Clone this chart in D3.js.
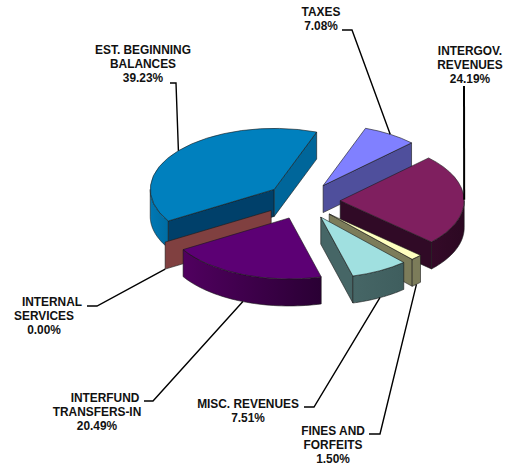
<!DOCTYPE html>
<html>
<head>
<meta charset="utf-8">
<script src="https://cdn.jsdelivr.net/npm/d3@7"></script>
<style>
html,body{margin:0;padding:0;background:#fff}
svg{display:block}
text{font-family:"Liberation Sans",Arial,sans-serif;font-weight:700;font-size:11.9px;fill:#111}
</style>
</head>
<body>
<svg id="chart" width="513" height="466"></svg>
<script>
// Revenue sources, in clockwise order from the top of the pie
const categories = ["TAXES", "INTERGOV. REVENUES", "FINES AND FORFEITS", "MISC. REVENUES",
                    "INTERFUND TRANSFERS-IN", "INTERNAL SERVICES", "EST. BEGINNING BALANCES"];
const shares = [7.08, 24.19, 1.50, 7.51, 20.49, 0.00, 39.23];

// Face colours per slice
const topColors  = ["#8080ff", "#7f1f5f", "#ffffc0", "#a0e0e0", "#5c0074", "#804040", "#0080be"];
const wallLeft   = ["#4f4f9c", "#340a28", "#7c7c5a", "#466666", "#50005f", "#804040", "#0078b4"];
const wallRight  = ["#4f4f9c", "#2c0822", "#7c7c5a", "#3f5e5e", "#2a0034", "#804040", "#006ca2"];
const cutColors  = ["#4f4f9c", "#300a26", "#7c7c5a", "#466666", "#50005f", "#804040", "#00406a"];
const endColors  = ["#4f4f9c", "#300a26", "#7c7c5a", "#466666", "#50005f", "#804040", "#00669a"];

// Label text blocks: line text and x shift, block anchor, baseline of first line
const labelLines = [
  [["TAXES", 0], ["7.08%", 0]],
  [["INTERGOV.", 0], ["REVENUES", 0], ["24.19%", 0]],
  [["FINES AND", 0], ["FORFEITS", 0], ["1.50%", 0]],
  [["MISC. REVENUES", 0], ["7.51%", 0]],
  [["INTERFUND", 8], ["TRANSFERS-IN", 0], ["20.49%", 0]],
  [["INTERNAL", 8], ["SERVICES", 0], ["0.00%", 0]],
  [["EST. BEGINNING", 0], ["BALANCES", 0], ["39.23%", 0]]
];
const labelAnchor = [[321, 16], [470, 55], [333, 435], [248, 408], [97, 402], [44, 306], [143, 54]];

// Leader line start points, before the run to the rim
const leaderStart = [[[342, 30], [352, 30]], [[464, 86]], [[369, 434], [380, 434]], [[304, 407], [314, 407]],
                     [[144, 401], [153, 401]], [[87, 306], [97, 306]], [[170, 83], [176, 83]]];

const cx = 303, cy = 201, rx = 124, ry = 61, depth = 27, explode = 0.3;
const startDeg = 20;

const svg = d3.select("#chart");
const defs = svg.append("defs");

const pie = d3.pie().sort(null).value(d => d)
  .startAngle(startDeg * Math.PI / 180)
  .endAngle((startDeg + 360) * Math.PI / 180);

const rim = a => [rx * Math.sin(a), -ry * Math.cos(a)];

const slices = pie(shares).map((s, i) => {
  const mid = (s.startAngle + s.endAngle) / 2;
  const [mx, my] = rim(mid);
  return { ...s, i, mid, ax: cx + explode * mx, ay: cy + explode * my };
});

const line = d3.line();
const unitArc = d3.arc().innerRadius(0).outerRadius(1);
const applyEdge = sel => sel.attr("stroke", "#1a1a1a").attr("stroke-width", 0.6).attr("stroke-linejoin", "round");

// Slices are painted back to front, ordered by apex height on screen
const order = slices.slice().sort((a, b) => d3.ascending(a.ay, b.ay));
order.forEach(s => {
  const g = svg.append("g").attr("transform", `translate(${s.ax},${s.ay})`);

  // Flat cut side, drawn only when it faces the viewer
  const cutFace = (a, fill) => {
    const [x, y] = rim(a);
    g.append("path")
      .attr("d", line([[0, 0], [x, y], [x, y + depth], [0, depth]]) + "Z")
      .attr("fill", fill).call(applyEdge);
  };
  if (Math.sin(s.startAngle) < 0) cutFace(s.startAngle, cutColors[s.i]);
  if (Math.sin(s.endAngle) > 0) cutFace(s.endAngle, endColors[s.i]);

  // Outer wall: the part of the rim on the near half of the ellipse
  const a0 = Math.max(s.startAngle, Math.PI / 2);
  const a1 = Math.min(s.endAngle, 3 * Math.PI / 2);
  if (a1 > a0) {
    const pts = d3.range(0, 41).map(k => rim(a0 + (a1 - a0) * k / 40));
    const down = pts.map(([x, y]) => [x, y + depth]).reverse();
    const id = "wall" + s.i;
    const xs = d3.extent(pts, p => p[0]);
    const grad = defs.append("linearGradient").attr("id", id)
      .attr("gradientUnits", "userSpaceOnUse")
      .attr("x1", xs[0]).attr("x2", xs[1]).attr("y1", 0).attr("y2", 0);
    grad.append("stop").attr("offset", 0).attr("stop-color", wallLeft[s.i]);
    grad.append("stop").attr("offset", 1).attr("stop-color", wallRight[s.i]);
    g.append("path")
      .attr("d", line(pts.concat(down)) + "Z")
      .attr("fill", `url(#${id})`)
      .call(applyEdge);
  }

  // Top face: a unit arc stretched onto the tilted ellipse
  if (s.endAngle > s.startAngle) {
    g.append("path")
      .attr("d", unitArc(s))
      .attr("transform", `scale(${rx},${ry})`)
      .attr("fill", topColors[s.i])
      .attr("vector-effect", "non-scaling-stroke")
      .call(applyEdge);
  }
});

// Leader lines end on the rim at each slice's middle angle
slices.forEach(s => {
  const [mx, my] = rim(s.mid);
  const onNearSide = Math.cos(s.mid) < 0;
  const end = [s.ax + mx, s.ay + my + (onNearSide ? depth : 0)];
  svg.append("path")
    .attr("d", line(leaderStart[s.i].concat([end])))
    .attr("fill", "none").attr("stroke", "#000")
    .attr("stroke-width", s.i === 1 ? 2 : 1.4);
});

// Labels
labelLines.forEach((lines, i) => {
  const [x, y] = labelAnchor[i];
  const t = svg.append("g");
  lines.forEach(([str, dx], k) => {
    t.append("text").attr("x", x + dx).attr("y", y + k * 14)
      .attr("text-anchor", "middle").text(str);
  });
});
</script>
</body>
</html>
